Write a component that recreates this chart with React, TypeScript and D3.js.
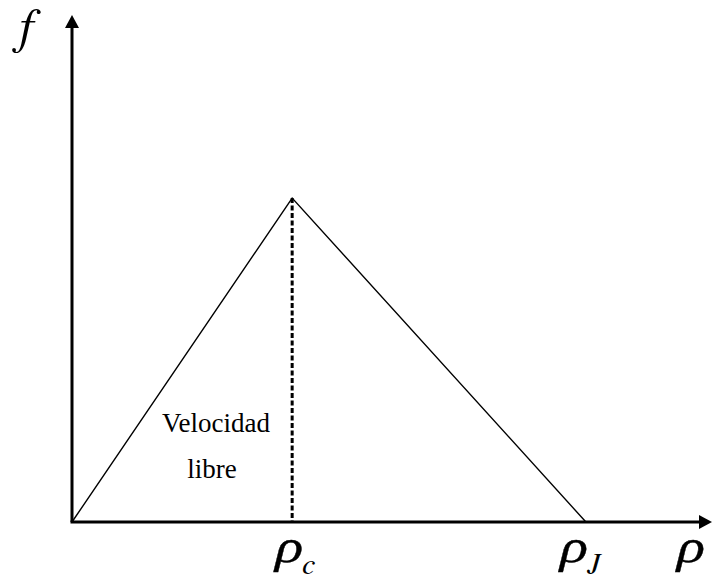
import React from "react";
import * as d3 from "d3";

// Triangular fundamental diagram: flow f against density ρ
const densities = [0, 34.4, 80.3];
const flows = [0, 63.9, 0];
const criticalDensity = 34.4;
const peakFlow = 63.9;
const jamDensity = 80.3;
const regimeLabel = ["Velocidad", "libre"];

const W = 715;
const H = 581;

const upright = "'Liberation Serif', 'Times New Roman', serif";
const italic = "FreeSerif, 'DejaVu Serif', serif";

// slanted ρ symbol with an optional italic subscript
function Rho({ x, y, sub }: { x: number; y: number; sub?: string }) {
  return (
    <g>
      <text
        transform={`translate(${x},${y}) skewX(-14) scale(1.22,1)`}
        fontFamily={upright}
        fontSize={47}
        stroke="#000"
        strokeWidth={0.35}
      >
        ρ
      </text>
      {sub && (
        <text x={x + 30} y={y + 12} fontFamily={italic} fontStyle="italic" fontSize={30}>
          {sub}
        </text>
      )}
    </g>
  );
}

export default function App() {
  const x = d3.scaleLinear().domain([0, 100]).range([72, 712]);
  const y = d3.scaleLinear().domain([0, 100]).range([522, 15]);

  const pts: [number, number][] = densities.map((d, i) => [d, flows[i]]);
  const line = d3
    .line<[number, number]>()
    .x((d) => x(d[0]))
    .y((d) => y(d[1]));

  const x0 = x(0);
  const y0 = y(0);
  const xEnd = x(100);
  const yEnd = y(100);

  return (
    <svg
      width={W}
      height={H}
      style={{ position: "absolute", left: 0, top: 0, background: "#fff" }}
    >
      {/* axes */}
      <line x1={x0} y1={y0} x2={x0} y2={yEnd + 11} stroke="#000" strokeWidth={3} />
      <path
        d={`M${x0},${yEnd} L${x0 - 7},${yEnd + 13} L${x0 + 7},${yEnd + 13} Z`}
        fill="#000"
      />
      <line x1={x0 - 1.5} y1={y0} x2={xEnd - 11} y2={y0} stroke="#000" strokeWidth={3} />
      <path
        d={`M${xEnd},${y0} L${xEnd - 13},${y0 - 7} L${xEnd - 13},${y0 + 7} Z`}
        fill="#000"
      />

      {/* flow-density curve */}
      <path d={line(pts) || ""} fill="none" stroke="#000" strokeWidth={1.4} />

      {/* critical density marker */}
      <line
        x1={x(criticalDensity)}
        y1={y(peakFlow)}
        x2={x(criticalDensity)}
        y2={y0}
        stroke="#000"
        strokeWidth={3}
        strokeDasharray="5 2.5"
      />

      {/* regime label */}
      <text x={216} y={432} fontFamily={upright} fontSize={27} textAnchor="middle">
        {regimeLabel[0]}
      </text>
      <text x={212} y={478} fontFamily={upright} fontSize={27} textAnchor="middle">
        {regimeLabel[1]}
      </text>

      {/* axis labels */}
      <text x={16} y={42} fontFamily={italic} fontStyle="italic" fontSize={50}>
        f
      </text>
      <Rho x={x(criticalDensity) - 20} y={562} sub="c" />
      <Rho x={x(jamDensity) - 29} y={562} sub="J" />
      <Rho x={x(100) - 38} y={562} />
    </svg>
  );
}
